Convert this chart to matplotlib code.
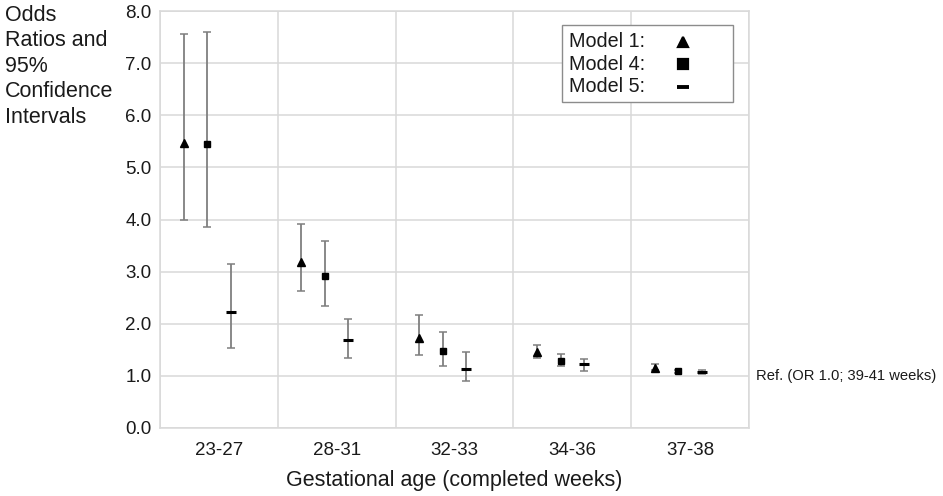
import matplotlib
matplotlib.use("Agg")
import matplotlib.pyplot as plt
from matplotlib.patches import Rectangle
import numpy as np

plt.rcParams['font.family'] = ['Liberation Sans', 'DejaVu Sans']

categories = ["23-27", "28-31", "32-33", "34-36", "37-38"]
models = ["Model 1:", "Model 4:", "Model 5:"]

m1_or = [5.47, 3.18, 1.73, 1.46, 1.15]
m1_lo = [4.00, 2.62, 1.40, 1.34, 1.11]
m1_hi = [7.55, 3.91, 2.16, 1.60, 1.22]

m4_or = [5.44, 2.91, 1.48, 1.29, 1.09]
m4_lo = [3.86, 2.35, 1.18, 1.19, 1.06]
m4_hi = [7.60, 3.59, 1.85, 1.42, 1.12]

m5_or = [2.22, 1.69, 1.14, 1.23, 1.08]
m5_lo = [1.53, 1.34, 0.90, 1.09, 1.04]
m5_hi = [3.15, 2.10, 1.45, 1.32, 1.12]

series = [(m1_or, m1_lo, m1_hi, '^', 5.5, 1.0),
          (m4_or, m4_lo, m4_hi, 's', 5.0, 1.0),
          (m5_or, m5_lo, m5_hi, '_', 6.5, 2.2)]
offsets = [-0.3, -0.1, 0.1]

W, H = 943, 496
fig = plt.figure(figsize=(W / 100, H / 100), dpi=100)
ax = fig.add_axes([160 / W, 1 - 428 / H, (749 - 160) / W, (428 - 11) / H])

x = np.arange(len(categories))
grid_c = '#d9d9d9'
err_c = '#7f7f7f'
txt_c = '#1a1a1a'

for (orv, lo, hi, mk, ms, mew), off in zip(series, offsets):
    orv = np.array(orv); lo = np.array(lo); hi = np.array(hi)
    yerr = np.vstack([orv - lo, hi - orv])
    ax.errorbar(x + off, orv, yerr=yerr, fmt='none', ecolor=err_c,
                elinewidth=1.3, capsize=2.8, capthick=1.1, zorder=2)
    ax.plot(x + off, orv, linestyle='none', marker=mk, markersize=ms,
            color='black', markeredgewidth=mew, zorder=3)

ax.set_xlim(-0.5, len(categories) - 0.5)
ax.set_ylim(0, 8)
ax.set_yticks(np.arange(0, 8.1, 1.0))
ax.set_yticklabels([f"{v:.1f}" for v in np.arange(0, 8.1, 1.0)])
ax.set_xticks(x)
ax.set_xticklabels(categories)
ax.set_xticks(np.arange(-0.5, len(categories), 1.0), minor=True)
ax.tick_params(axis='both', which='both', length=0, labelsize=13.5, colors=txt_c)
ax.tick_params(axis='x', which='major', pad=10)
ax.tick_params(axis='y', pad=6)
ax.grid(axis='y', which='major', color=grid_c, linewidth=1.1, zorder=0)
ax.grid(axis='x', which='minor', color=grid_c, linewidth=1.1, zorder=0)
ax.set_axisbelow(True)
for s in ['left', 'bottom', 'top', 'right']:
    ax.spines[s].set_color(grid_c)
    ax.spines[s].set_linewidth(1.1)

ax.set_xlabel("Gestational age (completed weeks)", fontsize=15.5, color=txt_c, labelpad=8)

fig.text(5 / W, 1 - 5 / H, "Odds\nRatios and\n95%\nConfidence\nIntervals",
         ha='left', va='top', fontsize=15.5, color=txt_c, linespacing=1.28)

ax.text(1.0115, 1.0, "Ref. (OR 1.0; 39-41 weeks)", transform=ax.get_yaxis_transform(),
        ha='left', va='center', fontsize=10.6, color=txt_c, clip_on=False)

# legend box drawn manually (text first, marker to the right)
def px_x(p):
    return (p - 160) / (749 - 160)

def px_y(p):
    return (428 - p) / (428 - 11)

box = Rectangle((px_x(562), px_y(102)), px_x(733) - px_x(562), px_y(25) - px_y(102),
                transform=ax.transAxes, facecolor='white', edgecolor='#8c8c8c',
                linewidth=1.0, zorder=5, clip_on=False)
ax.add_patch(box)
row_y = [41.5, 64, 86.5]
for (orv, lo, hi, mk, ms, mew), label, ry in zip(series, models, row_y):
    ax.text(px_x(569), px_y(ry), label, transform=ax.transAxes, ha='left', va='center',
            fontsize=14.2, color=txt_c, zorder=6)
    ax.plot([px_x(683)], [px_y(ry)], transform=ax.transAxes, linestyle='none',
            marker=mk, markersize=ms + 2.0, color='black', markeredgewidth=mew + 0.6,
            zorder=6, clip_on=False)

fig.savefig("out.png", dpi=100)
